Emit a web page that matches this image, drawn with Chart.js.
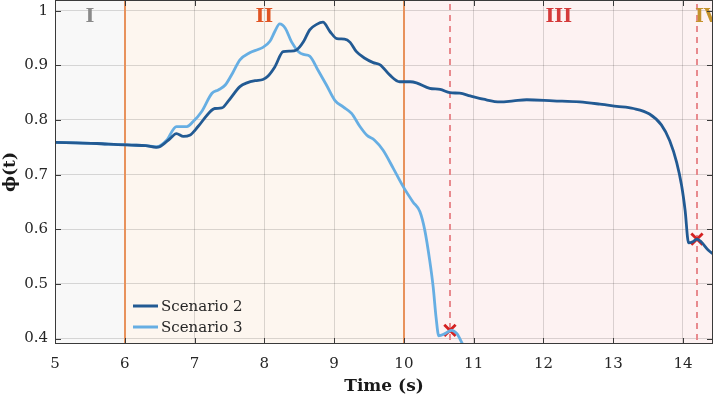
<!DOCTYPE html>
<html>
<head>
<meta charset="utf-8">
<script src="https://cdn.jsdelivr.net/npm/chart.js@4"></script>
<style>
  body { margin: 0; background: #fff; }
  #wrap { width: 713px; height: 401px; }
</style>
</head>
<body>
<div id="wrap"><canvas id="grafico"></canvas></div>
<script>
// curvas phi(t) dos dois cenarios
const tempoS2 = [5.0, 5.3, 5.6, 5.9, 6.1, 6.3, 6.45, 6.5, 6.65, 6.74, 6.84, 6.93, 7.05, 7.2, 7.29, 7.39, 7.48, 7.65, 7.75, 7.87, 7.98, 8.05, 8.15, 8.27, 8.37, 8.46, 8.56, 8.65, 8.75, 8.84, 8.94, 9.04, 9.15, 9.23, 9.32, 9.44, 9.56, 9.66, 9.8, 9.94, 10.09, 10.18, 10.37, 10.52, 10.66, 10.8, 10.95, 11.14, 11.38, 11.57, 11.76, 12.14, 12.52, 12.81, 13.05, 13.29, 13.52, 13.69, 13.81, 13.91, 13.98, 14.03, 14.08, 14.14, 14.2, 14.26, 14.36, 14.45]
const phiS2 = [0.759, 0.758, 0.757, 0.755, 0.754, 0.753, 0.750, 0.751, 0.766, 0.775, 0.770, 0.772, 0.788, 0.812, 0.821, 0.822, 0.834, 0.861, 0.868, 0.872, 0.874, 0.880, 0.897, 0.925, 0.926, 0.928, 0.943, 0.965, 0.975, 0.979, 0.962, 0.949, 0.948, 0.942, 0.925, 0.913, 0.905, 0.901, 0.882, 0.870, 0.870, 0.868, 0.858, 0.856, 0.850, 0.849, 0.844, 0.838, 0.833, 0.835, 0.837, 0.835, 0.833, 0.829, 0.825, 0.821, 0.811, 0.791, 0.762, 0.722, 0.680, 0.635, 0.575, 0.577, 0.582, 0.577, 0.562, 0.553]

const tempoS3 = [5.0, 5.3, 5.6, 5.9, 6.1, 6.3, 6.46, 6.6, 6.74, 6.89, 6.98, 7.1, 7.25, 7.34, 7.44, 7.55, 7.65, 7.79, 7.91, 7.98, 8.08, 8.15, 8.22, 8.3, 8.39, 8.49, 8.56, 8.65, 8.77, 8.89, 9.01, 9.13, 9.25, 9.37, 9.47, 9.58, 9.7, 9.85, 9.99, 10.13, 10.23, 10.3, 10.37, 10.42, 10.46, 10.5, 10.59, 10.68, 10.76, 10.84, 10.9]
const phiS3 = [0.759, 0.758, 0.757, 0.755, 0.754, 0.753, 0.751, 0.763, 0.788, 0.788, 0.797, 0.815, 0.849, 0.855, 0.864, 0.887, 0.910, 0.923, 0.929, 0.933, 0.944, 0.962, 0.976, 0.968, 0.943, 0.925, 0.920, 0.917, 0.891, 0.864, 0.836, 0.824, 0.812, 0.788, 0.772, 0.763, 0.745, 0.711, 0.678, 0.650, 0.632, 0.598, 0.543, 0.494, 0.440, 0.405, 0.409, 0.415, 0.409, 0.390, 0.375]

// pontos de falha (x vermelho)
const falhaT = [10.66, 14.2]
const falhaPhi = [0.415, 0.582]

// fases
const limitesFase = [5, 6, 10, 14.2, 14.43]
const nomesFase = ['I', 'II', 'III', 'IV']
const centroNome = [5.5, 8.0, 12.22, 14.34]
const coresFundo = ['#f8f8f8', '#fdf6ef', '#fdf2f2', '#fdf2f2']
const coresNome = ['#8a8a8a', '#e05524', '#d43a3a', '#c4922c']

const ticksX = [5, 6, 7, 8, 9, 10, 11, 12, 13, 14]
const ticksY = [0.4, 0.5, 0.6, 0.7, 0.8, 0.9, 1]

const fonte = '"DejaVu Serif", serif'

function pares (xs, ys) {
  return xs.map((x, i) => ({ x: x, y: ys[i] }))
}

const fases = {
  id: 'fases',
  beforeDraw (chart) {
    const { ctx, chartArea: a, scales: { x } } = chart
    ctx.save()
    for (let i = 0; i < nomesFase.length; i++) {
      const x0 = x.getPixelForValue(limitesFase[i])
      const x1 = x.getPixelForValue(limitesFase[i + 1])
      ctx.fillStyle = coresFundo[i]
      ctx.fillRect(x0, a.top, x1 - x0, a.bottom - a.top)
    }
    ctx.restore()
  },
  beforeDatasetsDraw (chart) {
    const { ctx, chartArea: a, scales: { x } } = chart
    ctx.save()
    ctx.beginPath()
    ctx.rect(a.left, a.top, a.right - a.left, a.bottom - a.top)
    ctx.clip()
    // divisorias das fases
    ctx.strokeStyle = '#e8925c'
    ctx.lineWidth = 2
    ;[6, 10].forEach(v => {
      const px = Math.round(x.getPixelForValue(v))
      ctx.beginPath()
      ctx.moveTo(px, a.top)
      ctx.lineTo(px, a.bottom)
      ctx.stroke()
    })
    // instantes de falha
    ctx.strokeStyle = '#e88a8e'
    ctx.setLineDash([6, 5])
    falhaT.forEach(v => {
      const px = Math.round(x.getPixelForValue(v))
      ctx.beginPath()
      ctx.moveTo(px, a.top + 4)
      ctx.lineTo(px, a.bottom)
      ctx.stroke()
    })
    ctx.setLineDash([])
    // nomes das fases
    ctx.font = 'bold 19px ' + fonte
    ctx.textAlign = 'center'
    ctx.textBaseline = 'middle'
    nomesFase.forEach((n, i) => {
      ctx.fillStyle = coresNome[i]
      ctx.fillText(n, x.getPixelForValue(centroNome[i]), a.top + 17)
    })
    ctx.restore()
  },
  afterDatasetsDraw (chart) {
    const { ctx } = chart
    ctx.save()
    // legenda
    ctx.font = '15px ' + fonte
    ctx.textBaseline = 'middle'
    ctx.textAlign = 'left'
    chart.data.datasets.slice(0, 2).forEach((ds, i) => {
      const y = 306 + i * 21
      ctx.strokeStyle = ds.borderColor
      ctx.lineWidth = 3
      ctx.beginPath()
      ctx.moveTo(133, y)
      ctx.lineTo(158, y)
      ctx.stroke()
      ctx.fillStyle = '#262626'
      ctx.fillText(ds.label, 161, y + 1)
    })
    ctx.restore()
  },
  afterDraw (chart) {
    const { ctx, chartArea: a, scales: { x, y } } = chart
    ctx.save()
    ctx.strokeStyle = '#3a3a3a'
    ctx.lineWidth = 1
    ctx.strokeRect(a.left + 0.5, a.top + 0.5, a.right - a.left - 1, a.bottom - a.top - 1)
    // marcas para dentro, nos quatro lados
    ctx.beginPath()
    ticksX.forEach(v => {
      const px = Math.round(x.getPixelForValue(v)) + 0.5
      ctx.moveTo(px, a.bottom)
      ctx.lineTo(px, a.bottom - 6)
      ctx.moveTo(px, a.top)
      ctx.lineTo(px, a.top + 6)
    })
    ticksY.forEach(v => {
      const py = Math.round(y.getPixelForValue(v)) + 0.5
      ctx.moveTo(a.left, py)
      ctx.lineTo(a.left + 6, py)
      ctx.moveTo(a.right, py)
      ctx.lineTo(a.right - 6, py)
    })
    ctx.stroke()
    ctx.restore()
  }
}

const grafico = new Chart(document.getElementById('grafico'), {
  type: 'line',
  data: {
    datasets: [{
      label: 'Scenario 2',
      data: pares(tempoS2, phiS2),
      borderColor: '#225a93',
      borderWidth: 2.8,
      pointRadius: 0,
      cubicInterpolationMode: 'monotone'
    }, {
      label: 'Scenario 3',
      data: pares(tempoS3, phiS3),
      borderColor: '#66aee3',
      borderWidth: 2.8,
      pointRadius: 0,
      cubicInterpolationMode: 'monotone'
    }, {
      label: 'Falha',
      data: pares(falhaT, falhaPhi),
      showLine: false,
      pointStyle: 'crossRot',
      pointRadius: 8,
      pointBorderWidth: 2.8,
      borderColor: '#d42121',
      pointBorderColor: '#d42121'
    }]
  },
  options: {
    responsive: true,
    maintainAspectRatio: false,
    devicePixelRatio: 1,
    animation: false,
    layout: { padding: 0, autoPadding: false },
    plugins: {
      legend: { display: false },
      tooltip: { enabled: false }
    },
    scales: {
      x: {
        type: 'linear',
        min: 5,
        max: 14.43,
        afterBuildTicks: s => { s.ticks = ticksX.map(v => ({ value: v })) },
        afterFit: s => { s.height = 57; s.paddingLeft = 0; s.paddingRight = 0 },
        grid: { color: 'rgba(0,0,0,0.14)', drawTicks: false },
        border: { display: false },
        ticks: { color: '#262626', padding: 11, font: { family: fonte, size: 15 } },
        title: {
          display: true,
          text: 'Time (s)',
          color: '#1a1a1a',
          padding: { top: 0, bottom: 4 },
          font: { family: fonte, size: 17, weight: 'bold' }
        }
      },
      y: {
        min: 0.39,
        max: 1.0196,
        afterBuildTicks: s => { s.ticks = ticksY.map(v => ({ value: v })) },
        afterFit: s => { s.width = 55; s.paddingTop = 0; s.paddingBottom = 0 },
        grid: { color: 'rgba(0,0,0,0.14)', drawTicks: false },
        border: { display: false },
        ticks: {
          color: '#262626',
          padding: 7,
          font: { family: fonte, size: 15 },
          callback: v => String(v)
        },
        title: {
          display: true,
          text: 'ϕ(t)',
          color: '#1a1a1a',
          padding: { top: 0, bottom: 4 },
          font: { family: fonte, size: 17, weight: 'bold' }
        }
      }
    }
  },
  plugins: [fases]
})
</script>
</body>
</html>
